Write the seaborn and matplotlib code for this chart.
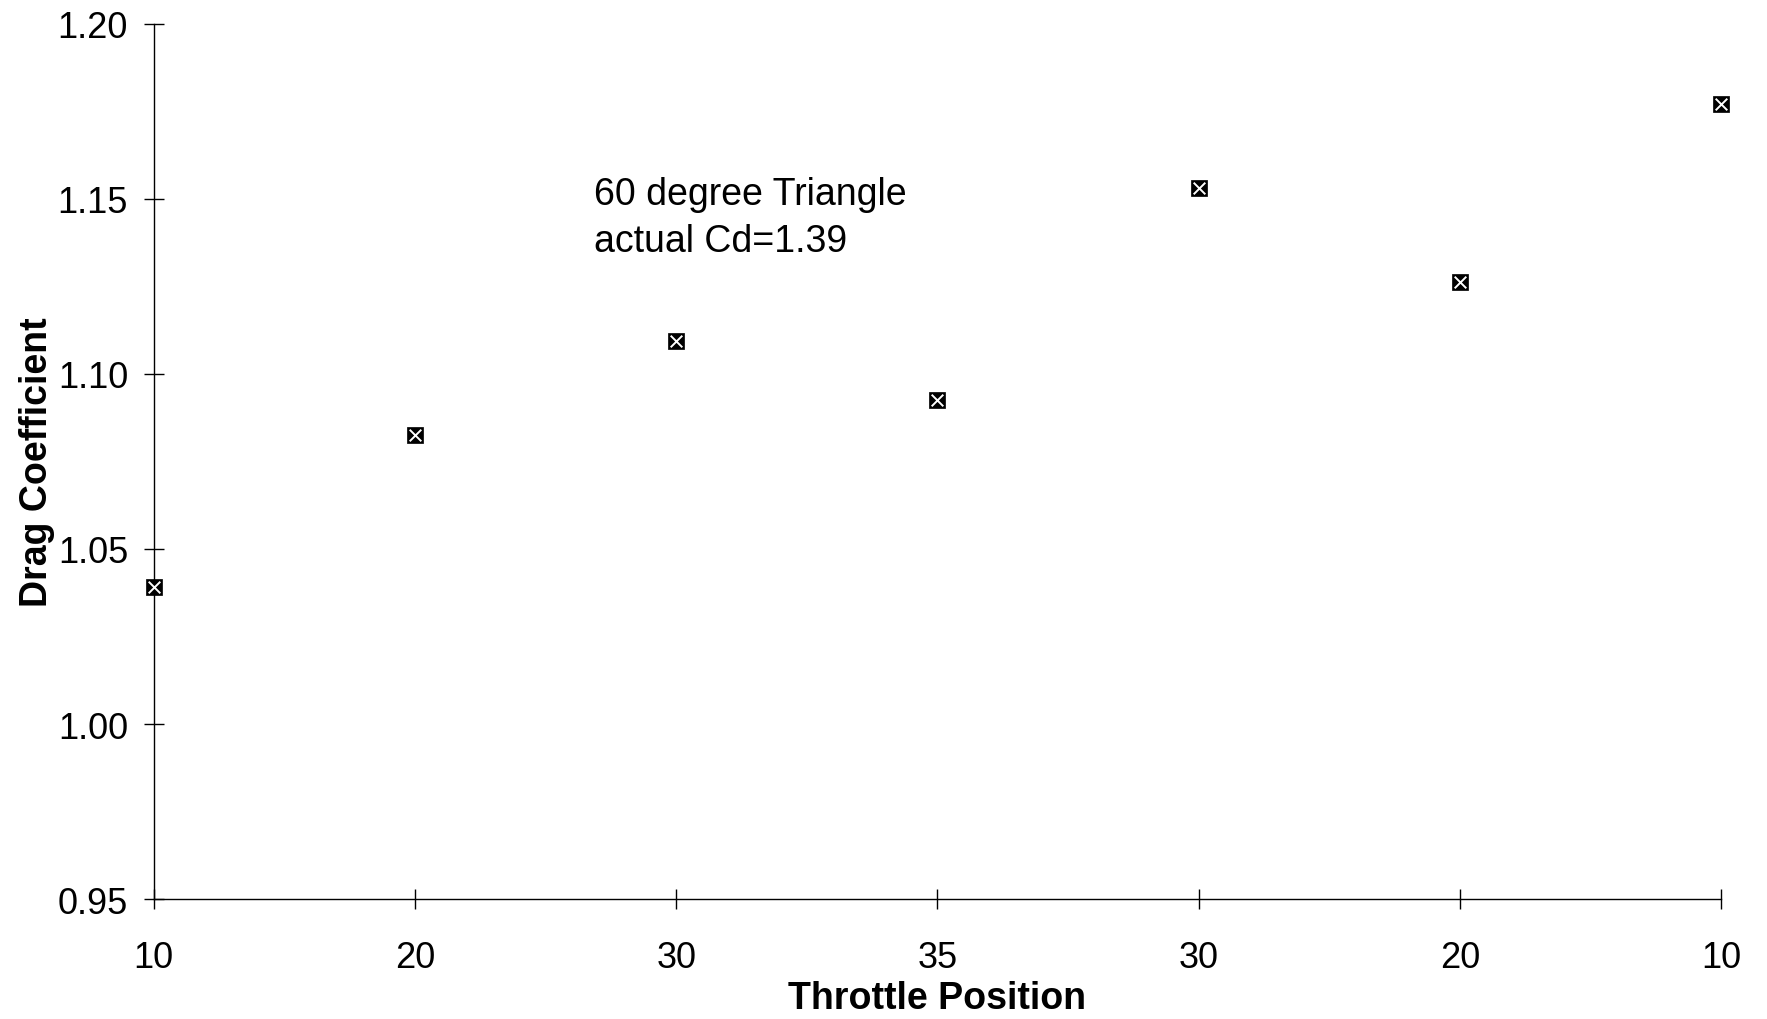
import matplotlib
matplotlib.use("Agg")
import matplotlib.pyplot as plt
import numpy as np
import pandas as pd
import seaborn as sns

sns.set_style("white")
plt.rcParams['font.family'] = ['Liberation Sans', 'DejaVu Sans']
plt.rcParams['text.color'] = 'black'
plt.rcParams['axes.labelcolor'] = 'black'

throttle_labels = ["10", "20", "30", "35", "30", "20", "10"]
drag_coeff = [1.039, 1.0826, 1.1093, 1.0925, 1.153, 1.1263, 1.177]

df = pd.DataFrame({
    'step': np.arange(len(throttle_labels)),
    'cd': drag_coeff,
})

fig = plt.figure(figsize=(17.67, 10.2), dpi=100)
ax = fig.add_axes([0.087, 0.1176, 0.887, 0.858])

# black square with a white cross on top
sns.scatterplot(data=df, x='step', y='cd', marker='s', s=135, color='black',
                edgecolor='black', linewidth=0.5, ax=ax, clip_on=False, zorder=3)
sns.scatterplot(data=df, x='step', y='cd', marker='x', s=70, color='white',
                linewidth=1.4, ax=ax, clip_on=False, zorder=4)

ax.set_xlim(0, len(throttle_labels) - 1)
ax.set_ylim(0.95, 1.20)
ax.set_xticks(df['step'])
ax.set_xticklabels(throttle_labels)
ax.set_yticks([0.95, 1.00, 1.05, 1.10, 1.15, 1.20])
ax.yaxis.set_major_formatter(matplotlib.ticker.FormatStrFormatter('%.2f'))

for side in ['top', 'right']:
    ax.spines[side].set_visible(False)
for side in ['left', 'bottom']:
    ax.spines[side].set_color('black')
    ax.spines[side].set_linewidth(1.0)

ax.tick_params(axis='both', direction='inout', length=15, width=1.0,
               colors='black', labelcolor='black', labelsize=26,
               bottom=True, left=True)
ax.tick_params(axis='x', pad=22)
ax.tick_params(axis='y', pad=11)

ax.set_xlabel("Throttle Position", fontsize=27, fontweight='bold')
ax.set_ylabel("Drag Coefficient", fontsize=27, fontweight='bold')
ax.xaxis.set_label_coords(0.5, -0.093)
ax.yaxis.set_label_coords(-0.063, 0.5)

ax.text(1.685, 1.1448, "60 degree Triangle\nactual Cd=1.39", fontsize=27,
        va='center', ha='left', linespacing=1.4)

fig.savefig("out.png", dpi=100, facecolor='white')
